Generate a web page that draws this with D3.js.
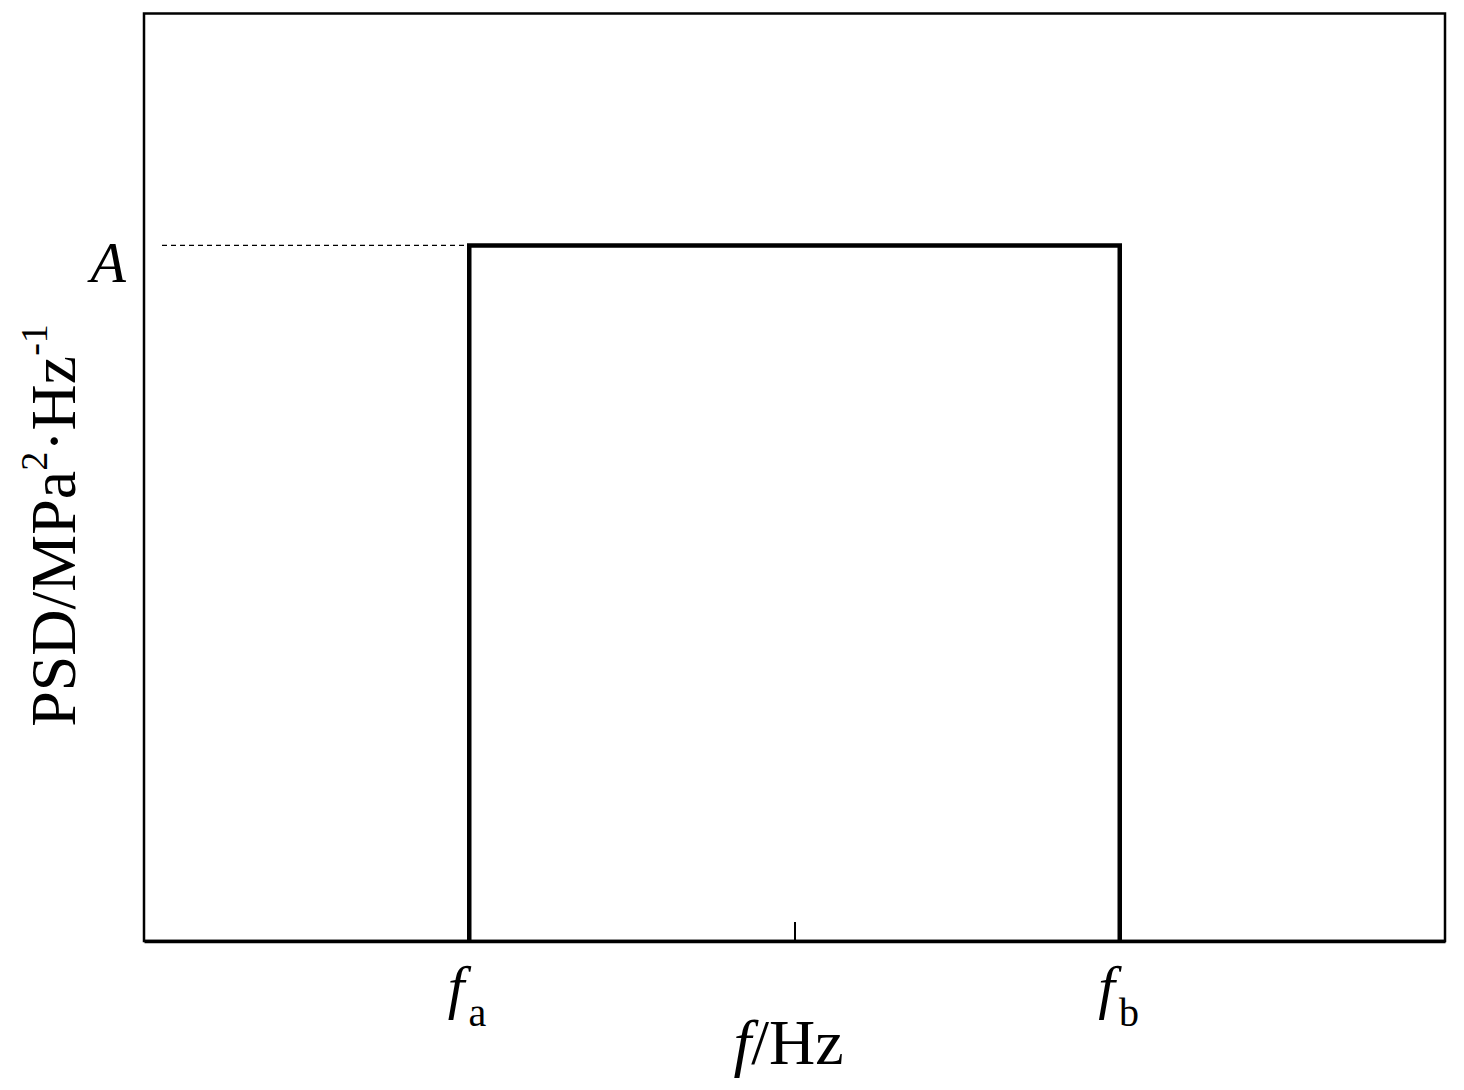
<!DOCTYPE html>
<html lang="en">
<head>
  <meta charset="UTF-8">
  <title>PSD band spectrum</title>
</head>
<style>
  body {
    margin: 0;
    background: #fff;
  }
  text {
    font-family: "Liberation Serif", "Times New Roman", serif;
    fill: #000;
  }
</style>
<body>
  <div id="chart"></div>

  <script src="https://d3js.org/d3.v7.min.js"></script>
  <script>
    // ## Data
    const freqDomain = [0, 4];
    const psdDomain = [0, 4 / 3];
    const stepFreq = [1, 1, 3, 3];     // f_a up, across, f_b down
    const stepPsd = [0, 1, 1, 0];      // A = 1
    const psdLevel = 1;
    const freqTicks = [1, 2, 3];
    const tickMain = ["f", "", "f"];
    const tickSub = ["a", "", "b"];

    // ## Dimensions
    let dimensions = {
      width: 1464,
      height: 1090,
      margin: {top: 13.5, right: 19, bottom: 149, left: 144}
    }
    dimensions.boundedWidth = dimensions.width - dimensions.margin.left - dimensions.margin.right
    dimensions.boundedHeight = dimensions.height - dimensions.margin.top - dimensions.margin.bottom

    const svg = d3.select("#chart")
      .append("svg")
        .attr("width", dimensions.width)
        .attr("height", dimensions.height)

    const bounds = svg.append("g")
        .attr("transform", `translate(${dimensions.margin.left},${dimensions.margin.top})`)

    // ## Scales
    const xScale = d3.scaleLinear()
        .domain(freqDomain)
        .range([0, dimensions.boundedWidth])

    const yScale = d3.scaleLinear()
        .domain(psdDomain)
        .range([dimensions.boundedHeight, 0])

    // ## Frame
    bounds.append("rect")
        .attr("x", 0)
        .attr("y", 0)
        .attr("width", dimensions.boundedWidth)
        .attr("height", dimensions.boundedHeight)
        .attr("fill", "none")
        .attr("stroke", "#000")
        .attr("stroke-width", 2.5)

    // X axis (ticks pointing inward, labels drawn by hand below)
    const xAxis = bounds.append("g")
        .attr("transform", `translate(0,${dimensions.boundedHeight})`)
        .call(d3.axisBottom(xScale)
          .tickValues(freqTicks)
          .tickSizeInner(-19)
          .tickSizeOuter(0)
          .tickFormat(""))
        .call(g => g.select(".domain")
          .attr("stroke-width", 3.4))
        .call(g => g.selectAll(".tick line")
          .attr("stroke-width", 2))

    xAxis.selectAll(".tick").each(function(d, i) {
      if (!tickMain[i]) return;
      const t = d3.select(this).append("text")
          .attr("x", -22)
          .attr("y", 66)
          .attr("text-anchor", "start")
          .style("font-size", "60px")
          .style("fill", "#000")
      t.append("tspan")
          .style("font-style", "italic")
          .text(tickMain[i])
      t.append("tspan")
          .attr("dx", 4)
          .attr("dy", 19)
          .style("font-size", "40px")
          .text(tickSub[i])
    })

    const xLabel = bounds.append("text")
        .attr("x", xScale(2) - 6)
        .attr("y", dimensions.boundedHeight + 123)
        .attr("text-anchor", "middle")
        .style("font-size", "64px")
    xLabel.append("tspan").style("font-style", "italic").text("f")
    xLabel.append("tspan").text("/Hz")

    // ## Y label
    const yLabel = svg.append("text")
        .attr("transform", `translate(75,${dimensions.margin.top + 512}) rotate(-90)`)
        .attr("text-anchor", "middle")
        .style("font-size", "64px")
    yLabel.append("tspan").text("PSD/MPa")
    yLabel.append("tspan").attr("dy", -28).style("font-size", "38px").text("2")
    yLabel.append("tspan").attr("dy", 28).text("·Hz")
    yLabel.append("tspan").attr("dy", -28).style("font-size", "38px").text("-1")

    // A level label + dashed guide
    bounds.append("text")
        .attr("x", -18)
        .attr("y", yScale(psdLevel) + 37)
        .attr("text-anchor", "end")
        .style("font-size", "58px")
        .style("font-style", "italic")
        .text("A")

    bounds.append("line")
        .attr("x1", xScale(freqDomain[0]) + 18)
        .attr("x2", xScale(stepFreq[0]))
        .attr("y1", yScale(psdLevel))
        .attr("y2", yScale(psdLevel))
        .attr("stroke", "#000")
        .attr("stroke-width", 1.2)
        .attr("stroke-dasharray", "5,4")

    // ## Step line
    const stepData = stepFreq.map((f, i) => [f, stepPsd[i]])
    const line = d3.line()
        .x(d => xScale(d[0]))
        .y(d => yScale(d[1]))

    bounds.append("path")
        .datum(stepData)
        .attr("d", line)
        .attr("fill", "none")
        .attr("stroke", "#000")
        .attr("stroke-width", 4.5)
        .attr("stroke-linejoin", "miter")
  </script>
</body>
</html>
